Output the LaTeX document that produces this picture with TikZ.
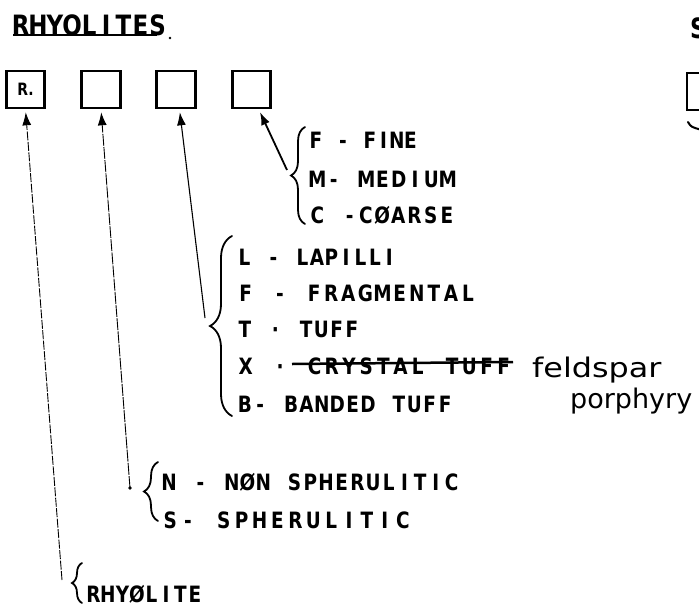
\documentclass[tikz,border=0pt]{standalone}
\usepackage{fontspec}
\usepackage{graphicx}
\setmainfont{DejaVu Sans}
\newfontfamily\handfont[FakeStretch=0.82]{DejaVu Sans}
\usetikzlibrary{arrows.meta,decorations.pathreplacing}
% evenly spaced hand-style lettering: every character sits in a cell of width #1
\ExplSyntaxOn
\NewDocumentCommand\hand{mm}{\str_map_inline:nn{#2}{\makebox[#1][c]{##1}}}
\ExplSyntaxOff
\begin{document}
\begin{tikzpicture}[x=1pt,y=-1pt,
  codebox/.style={draw,line width=2.6pt,minimum width=38.5pt,minimum height=37pt,inner sep=0pt},
  lbl/.style={anchor=west,inner sep=0pt,font=\handfont\bfseries\fontsize{22.5}{22.5}\selectfont},
  heading/.style={anchor=west,inner sep=0pt,font=\handfont\bfseries\fontsize{28}{28}\selectfont},
  script/.style={anchor=base west,inner sep=0pt,font=\fontsize{27}{27}\selectfont},
  bracegroup/.style={decorate,line width=1.8pt,line cap=round},
  pointer/.style={-{Latex[length=13pt,width=9pt]},shorten >=3pt},
]
\useasboundingbox (0,0) rectangle (699,608);
\clip (0,0) rectangle (699,608);

% heading
\node[heading] (title) at (12,25) {\hand{17.1pt}{RHYOLITES}};
\draw[line width=2.2pt] (13,35) -- (157,35);
\fill (170,38) circle (1.3pt);

% the four code boxes
\node[codebox] (b1) at (25.5,89.5) {\handfont\bfseries\fontsize{17}{17}\selectfont R.};
\node[codebox] (b2) at (101,89.5) {};
\node[codebox] (b3) at (176,89.5) {};
\node[codebox] (b4) at (251.5,89.5) {};

% neighbouring heading and box at the right edge
\node[heading] (title2) at (690,28) {S};
\draw[line width=2.6pt] (687,73) rectangle (735,110);
\draw[line width=2pt,line cap=round] (688,122) .. controls (691,127) .. (702,130);

% grain size
\draw[bracegroup,decoration={brace,amplitude=14pt}] (305,224) -- (305,127);
\node[lbl] (fine) at (309,140) {\hand{13.5pt}{F - FINE}};
\node[lbl] (medium) at (309,179) {\hand{16.3pt}{M- MEDIUM}};
\node[lbl] (coarse) at (309,215) {\hand{16.2pt}{C -CØARSE}};
\coordinate (e4) at (287,170);

% texture
\draw[bracegroup,decoration={brace,amplitude=22pt}] (232,416) -- (232,236);
\node[lbl] (lap) at (237,257) {\hand{14.5pt}{L - LAPILLI}};
\node[lbl] (frag) at (237,293) {\hand{17.1pt}{F - FRAGMENTAL}};
\node[lbl] (tuff) at (237,329) {\hand{15.3pt}{T · TUFF}};
\node[lbl] (cryst) at (237,366) {\hand{17.2pt}{X · CRYSTAL TUFF}};
\draw[line width=2.5pt] (292,364) -- (513,362);
\node[lbl] (band) at (237,404) {\hand{15.4pt}{B- BANDED TUFF}};
\node[script] (fp1) at (532,377) {\scalebox{1.18}[1]{feldspar}};
\node[script] (fp2) at (570,408) {porphyry};
\coordinate (e3) at (205,318);

% spherulites
\draw[bracegroup,decoration={brace,amplitude=14pt}] (158,521) -- (158,462);
\node[lbl] (non) at (161,482) {\hand{15.7pt}{N - NØN SPHERULITIC}};
\node[lbl] (sph) at (161,520) {\hand{17.9pt}{S- SPHERULITIC}};
\coordinate (e2) at (130,488);
\fill (e2) circle (1.8pt);

% rock name
\draw[bracegroup,decoration={brace,amplitude=10pt}] (82,603) -- (82,563);
\node[lbl] (rhy) at (86,594) {\hand{14.5pt}{RHYØLITE}};
\coordinate (e1) at (62,580);

% pointers to the boxes
\draw[pointer,line width=0.9pt,dash pattern=on 9pt off 1.5pt] (e1) -- (b1.south);
\draw[pointer,line width=0.9pt,dash pattern=on 12pt off 1.2pt] (e2) -- (b2.south);
\draw[pointer,line width=1.1pt] (e3) -- (b3.280);
\draw[pointer,line width=1.8pt] (e4) -- (b4.290);
\end{tikzpicture}
\end{document}
